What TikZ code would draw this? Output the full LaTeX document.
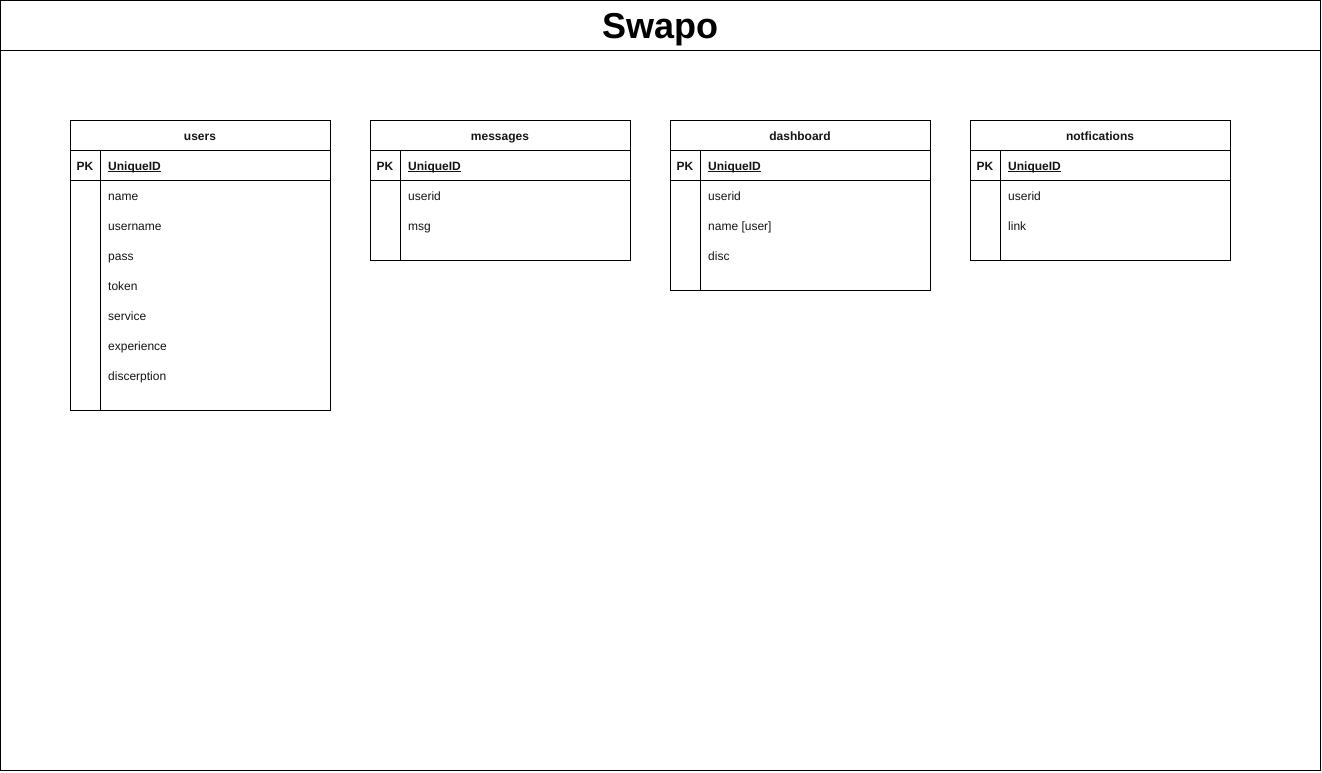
\documentclass[tikz,border=0pt]{standalone}
\usepackage{fontspec}
\setmainfont{Liberation Sans}
\definecolor{ink}{RGB}{0,0,0}
\definecolor{fieldtext}{RGB}{20,20,20}
\newcommand{\keyline}[1]{\underline{\smash{#1}}}

\begin{document}
\begin{tikzpicture}[x=1pt,y=-1pt,
 every node/.style={font=\fontsize{12}{14}\selectfont,text=fieldtext,inner sep=0pt,anchor=base},
 frame/.style={draw=ink,line width=1pt},
 tablename/.style={font=\fontsize{12}{14}\selectfont\bfseries},
 keytag/.style={font=\fontsize{12}{14}\selectfont\bfseries},
 field/.style={anchor=base west},
 title/.style={font=\fontsize{36}{43}\selectfont\bfseries,text=ink}]
 \path[use as bounding box] (0,0) rectangle (1322,772);
 % Outer page frame with the title band.
 \draw[frame] (.5,.5) rectangle (1320.5,770.5);
 \draw[frame] (.5,50.5) -- (1320.5,50.5);
 \node[title] (swapo) at (660,38) {Swapo};
 \begin{scope}[shift={(70,0)}]
  \draw[frame] (.5,120.5) rectangle (260.5,410.5);
  \draw[frame] (.5,150.5) -- (260.5,150.5);
  \draw[frame] (.5,180.5) -- (260.5,180.5);
  \draw[frame] (30.5,150.5) -- (30.5,410.5);
  \node[tablename] (users) at (130,140) {users};
  \node[keytag] (users-pk) at (15,170) {PK};
  \node[field,keytag] (users-id) at (38,170) {\keyline{UniqueID}};
  \node[field] (users-name) at (38,200) {name};
  \node[field] (users-username) at (38,230) {username};
  \node[field] (users-pass) at (38,260) {pass};
  \node[field] (users-token) at (38,290) {token};
  \node[field] (users-service) at (38,320) {service};
  \node[field] (users-experience) at (38,350) {experience};
  \node[field] (users-disc) at (38,380) {discerption};
 \end{scope}
 \begin{scope}[shift={(370,0)}]
  \draw[frame] (.5,120.5) rectangle (260.5,260.5);
  \draw[frame] (.5,150.5) -- (260.5,150.5);
  \draw[frame] (.5,180.5) -- (260.5,180.5);
  \draw[frame] (30.5,150.5) -- (30.5,260.5);
  \node[tablename] (messages) at (130,140) {messages};
  \node[keytag] (messages-pk) at (15,170) {PK};
  \node[field,keytag] (messages-id) at (38,170) {\keyline{UniqueID}};
  \node[field] (messages-userid) at (38,200) {userid};
  \node[field] (messages-msg) at (38,230) {msg};
 \end{scope}
 \begin{scope}[shift={(670,0)}]
  \draw[frame] (.5,120.5) rectangle (260.5,290.5);
  \draw[frame] (.5,150.5) -- (260.5,150.5);
  \draw[frame] (.5,180.5) -- (260.5,180.5);
  \draw[frame] (30.5,150.5) -- (30.5,290.5);
  \node[tablename] (dashboard) at (130,140) {dashboard};
  \node[keytag] (dashboard-pk) at (15,170) {PK};
  \node[field,keytag] (dashboard-id) at (38,170) {\keyline{UniqueID}};
  \node[field] (dashboard-userid) at (38,200) {userid};
  \node[field] (dashboard-name) at (38,230) {name [user]};
  \node[field] (dashboard-disc) at (38,260) {disc};
 \end{scope}
 \begin{scope}[shift={(970,0)}]
  \draw[frame] (.5,120.5) rectangle (260.5,260.5);
  \draw[frame] (.5,150.5) -- (260.5,150.5);
  \draw[frame] (.5,180.5) -- (260.5,180.5);
  \draw[frame] (30.5,150.5) -- (30.5,260.5);
  \node[tablename] (notfications) at (130,140) {notfications};
  \node[keytag] (notfications-pk) at (15,170) {PK};
  \node[field,keytag] (notfications-id) at (38,170) {\keyline{UniqueID}};
  \node[field] (notfications-userid) at (38,200) {userid};
  \node[field] (notfications-link) at (38,230) {link};
 \end{scope}
\end{tikzpicture}
\end{document}
